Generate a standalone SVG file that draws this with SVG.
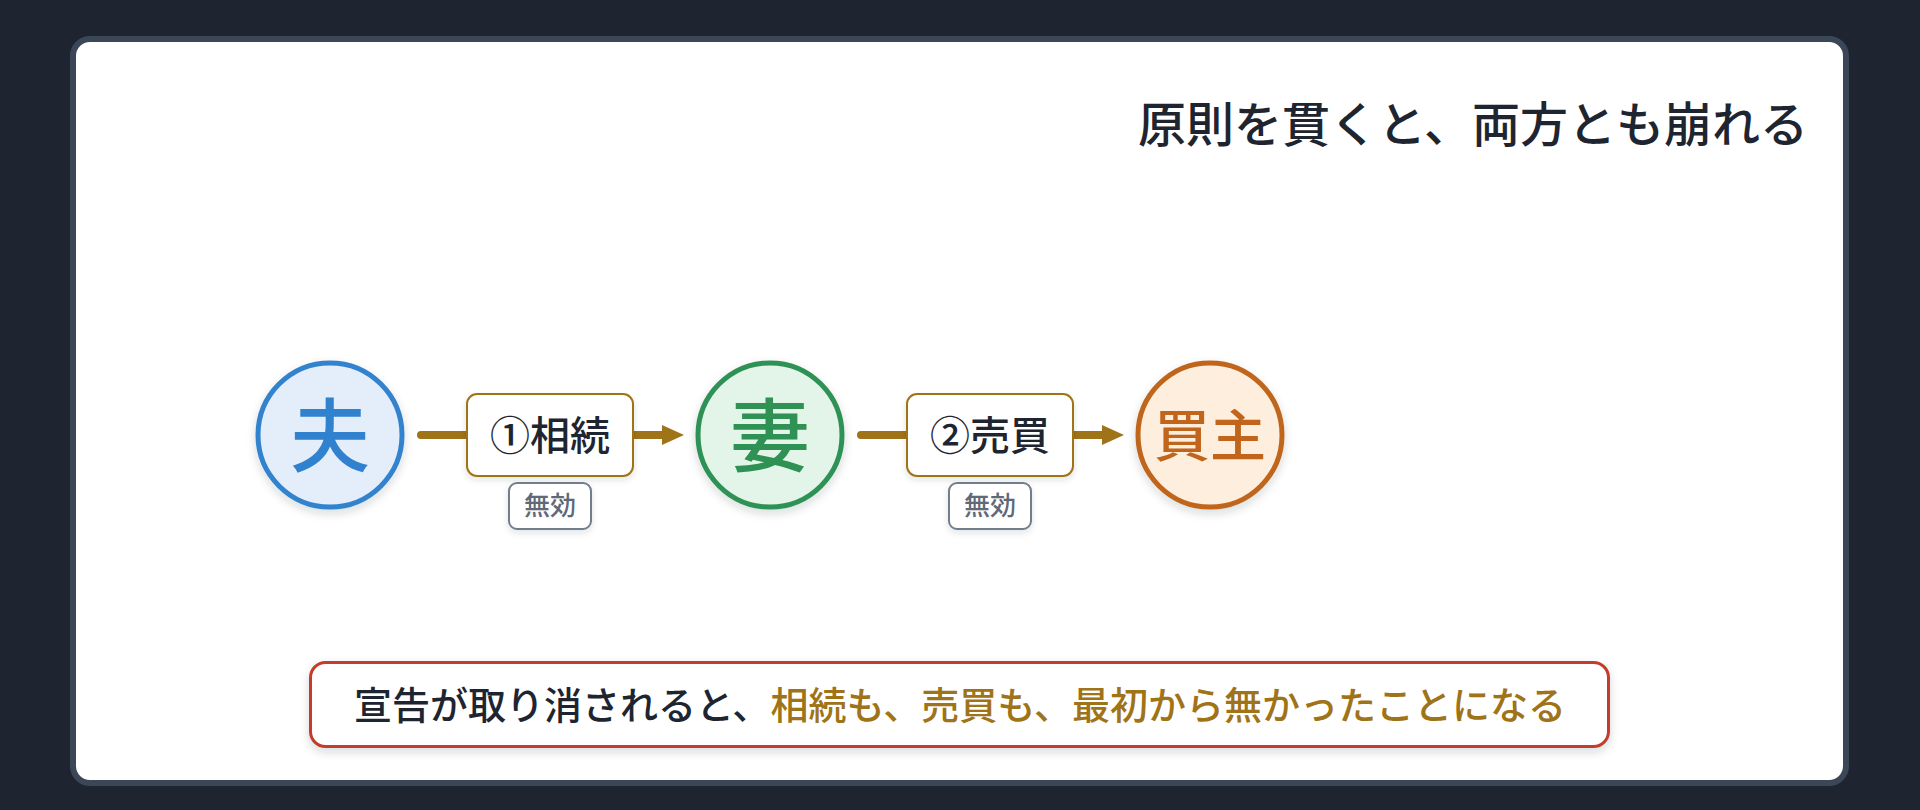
<svg xmlns="http://www.w3.org/2000/svg" width="1920" height="810" viewBox="0 0 1920 810">
  <defs>
    <filter id="sh" x="-30%" y="-30%" width="160%" height="170%">
      <feDropShadow dx="0" dy="4" stdDeviation="5" flood-color="#1e2530" flood-opacity="0.16"/>
    </filter>
    <filter id="shs" x="-10%" y="-30%" width="120%" height="170%">
      <feDropShadow dx="0" dy="3" stdDeviation="3" flood-color="#1e2530" flood-opacity="0.12"/>
    </filter>
    <style>
      .t { font-family: "Noto Sans CJK JP", "Noto Sans", sans-serif; }
      .conn { stroke: #9f7318; stroke-width: 8; stroke-linecap: round; fill: none; }
      .head { fill: #9f7318; }
      .lbl { fill: #ffffff; stroke: #9f7318; stroke-width: 2; }
      .lbltxt { font-size: 40px; font-weight: 500; fill: #1e2530; text-anchor: middle; }
      .badge { fill: #ffffff; stroke: #737e8c; stroke-width: 2; }
      .badgetxt { font-size: 26px; font-weight: 500; fill: #5f6977; text-anchor: middle; }
      .ntxt { font-weight: 500; text-anchor: middle; }
    </style>
  </defs>
  <rect x="0" y="0" width="1920" height="810" fill="#1e2530"/>
  <rect x="73" y="39" width="1773" height="744" rx="17" fill="#ffffff" stroke="#3b4657" stroke-width="6"/>

  <text class="t" x="1808" y="142" font-size="48" font-weight="500" fill="#1e2530" text-anchor="end">原則を貫くと、両方とも崩れる</text>

  <g id="connectors">
    <line class="conn" x1="421" y1="435" x2="664" y2="435"/>
    <path class="head" d="M662,425 L684,435 L662,445 Z"/>
    <line class="conn" x1="861" y1="435" x2="1104" y2="435"/>
    <path class="head" d="M1102,425 L1124,435 L1102,445 Z"/>
  </g>

  <g id="label1">
    <rect class="lbl" x="467" y="394" width="166" height="82" rx="10" filter="url(#shs)"/>
    <text class="t lbltxt" x="550" y="450">①相続</text>
    <rect class="badge" x="509" y="483" width="82" height="46" rx="8" filter="url(#shs)"/>
    <text class="t badgetxt" x="550" y="515">無効</text>
  </g>
  <g id="label2">
    <rect class="lbl" x="907" y="394" width="166" height="82" rx="10" filter="url(#shs)"/>
    <text class="t lbltxt" x="990" y="450">②売買</text>
    <rect class="badge" x="949" y="483" width="82" height="46" rx="8" filter="url(#shs)"/>
    <text class="t badgetxt" x="990" y="515">無効</text>
  </g>

  <g id="node-husband">
    <circle cx="330" cy="435" r="72" fill="#e4eefa" stroke="#3182ce" stroke-width="5" filter="url(#sh)"/>
    <text class="t ntxt" x="330" y="465" font-size="80" fill="#3182ce">夫</text>
  </g>
  <g id="node-wife">
    <circle cx="770" cy="435" r="72" fill="#e3f5e8" stroke="#2f9154" stroke-width="5" filter="url(#sh)"/>
    <text class="t ntxt" x="770" y="465" font-size="80" fill="#2f9154">妻</text>
  </g>
  <g id="node-buyer">
    <circle cx="1210" cy="435" r="72" fill="#feeedd" stroke="#c0651b" stroke-width="5" filter="url(#sh)"/>
    <text class="t ntxt" x="1210" y="456" font-size="56" fill="#c0651b">買主</text>
  </g>

  <g id="callout">
    <rect x="310.5" y="662.5" width="1298" height="84" rx="15" fill="#ffffff" stroke="#c53d2c" stroke-width="3" filter="url(#sh)"/>
    <text class="t" x="960" y="719" font-size="38" font-weight="500" fill="#1e2530" text-anchor="middle">宣告が取り消されると、<tspan fill="#9f7318">相続も、売買も、最初から無かったことになる</tspan></text>
  </g>
</svg>
